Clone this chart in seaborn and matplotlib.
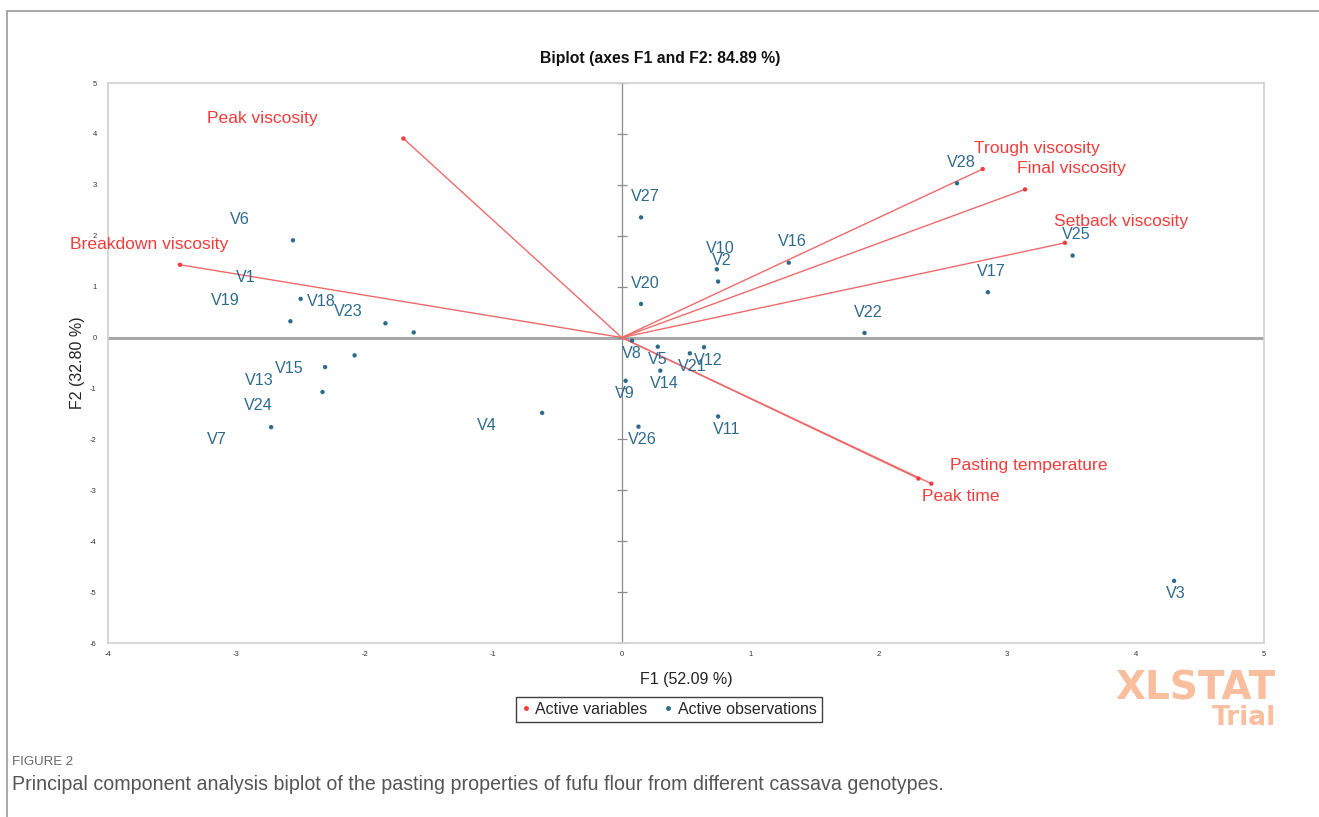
"""PCA biplot of fufu flour pasting properties (XLSTAT style)."""

import matplotlib

matplotlib.use("Agg")

import matplotlib.pyplot as plt
import numpy as np
import pandas as pd
import seaborn as sns
from matplotlib.patches import Rectangle

# ---- data ----
VAR_NAMES = [
    "Peak viscosity",
    "Breakdown viscosity",
    "Trough viscosity",
    "Final viscosity",
    "Setback viscosity",
    "Pasting temperature",
    "Peak time",
]
VAR_F1 = [-1.70, -3.44, 2.81, 3.14, 3.45, 2.31, 2.41]
VAR_F2 = [3.91, 1.43, 3.31, 2.91, 1.86, -2.77, -2.87]

OBS_NAMES = [
    "V1", "V2", "V3", "V4", "V5", "V6", "V7", "V8", "V9", "V10",
    "V11", "V12", "V13", "V14", "V15", "V16", "V17", "V18", "V19", "V20",
    "V21", "V22", "V23", "V24", "V25", "V26", "V27", "V28",
]
OBS_F1 = [
    -2.58, 0.75, 4.30, -0.62, 0.28, -2.56, -1.62, 0.08, 0.03, 0.74,
    0.75, 0.64, -2.33, 0.30, -2.31, 1.30, 2.85, -2.50, -2.08, 0.15,
    0.53, 1.89, -1.84, -2.73, 3.51, 0.13, 0.15, 2.61,
]
OBS_F2 = [
    0.32, 1.10, -4.78, -1.48, -0.18, 1.91, 0.10, -0.06, -0.85, 1.34,
    -1.55, -0.19, -1.07, -0.65, -0.58, 1.47, 0.89, 0.76, -0.35, 0.66,
    -0.31, 0.09, 0.28, -1.76, 1.61, -1.75, 2.36, 3.03,
]

TITLE = "Biplot (axes F1 and F2: 84.89 %)"
X_LABEL = "F1 (52.09 %)"
Y_LABEL = "F2 (32.80 %)"
X_TICKS = [-4, -3, -2, -1, 0, 1, 2, 3, 4, 5]
Y_TICKS = [-6, -5, -4, -3, -2, -1, 0, 1, 2, 3, 4, 5]
CAPTION_HEAD = "FIGURE 2"
CAPTION = (
    "Principal component analysis biplot of the pasting properties of fufu "
    "flour from different cassava genotypes."
)

# label placement (label centre minus point, data units)
VAR_LABEL_OFFSETS = [
    (-1.10, 0.39), (-0.24, 0.40), (0.42, 0.40), (0.36, 0.41),
    (0.44, 0.42), (0.86, 0.26), (0.23, -0.25),
]
OBS_LABEL_OFFSETS = {
    "V1": (-0.35, 0.86), "V19": (-1.01, 1.08), "V23": (-0.29, 0.23),
    "V13": (-0.49, 0.23), "V7": (-1.53, -2.10), "V6": (-0.415, 0.414),
    "V18": (0.16, -0.05), "V15": (-0.28, -0.03), "V24": (-0.10, 0.42),
    "V4": (-0.43, -0.25), "V8": (0.0, -0.25), "V9": (-0.01, -0.25),
    "V26": (0.03, -0.25), "V5": (0.0, -0.25), "V21": (0.02, -0.26),
    "V12": (0.03, -0.26), "V14": (0.03, -0.25), "V11": (0.07, -0.26),
    "V3": (0.01, -0.25),
}
DEFAULT_OBS_OFFSET = (0.03, 0.41)

RED = "#F23B3B"
RED_LINE = "#EE6A6A"
BLUE = "#2E6A8C"
GRID_GRAY = "#A8A8A8"

sns.set_theme(style="white")
plt.rcParams["font.family"] = ["Liberation Sans", "DejaVu Sans"]
plt.rcParams["axes.unicode_minus"] = False

variables = pd.DataFrame({"F1": VAR_F1, "F2": VAR_F2, "name": VAR_NAMES})
observations = pd.DataFrame({"F1": OBS_F1, "F2": OBS_F2, "name": OBS_NAMES})

W, H = 1319, 817
fig = plt.figure(figsize=(W / 100, H / 100), dpi=100)
ax = fig.add_axes([108 / W, 1 - 643 / H, (1264 - 108) / W, (643 - 83) / H])

# outer figure frame
fig.patches.append(
    Rectangle((7 / W, -0.05), 1.2, 1 - 11 / H + 0.05, transform=fig.transFigure,
              fill=False, edgecolor="#9A9A9A", linewidth=1.2)
)

# zero axes with small ticks
ax.axhline(0, color=GRID_GRAY, linewidth=2.2, zorder=1)
ax.axvline(0, color="#8C8C8C", linewidth=0.9, zorder=1)
ax.plot(np.zeros(len(Y_TICKS)), Y_TICKS, linestyle="none", marker="_",
        markersize=7, color="#8C8C8C", markeredgewidth=0.9, zorder=1)

# variable vectors from origin
for x_end, y_end in zip(variables["F1"], variables["F2"]):
    ax.plot([0, x_end], [0, y_end], color=RED_LINE, linewidth=1.0, zorder=2)

sns.scatterplot(data=variables, x="F1", y="F2", color=RED, s=10,
                edgecolor="none", ax=ax, zorder=3, legend=False)
sns.scatterplot(data=observations, x="F1", y="F2", color=BLUE, s=10,
                edgecolor="none", ax=ax, zorder=3, legend=False)

for (x, y, name), (dx, dy) in zip(variables.itertuples(index=False), VAR_LABEL_OFFSETS):
    ax.text(x + dx, y + dy, name, color=RED, fontsize=12.6,
            ha="center", va="center", zorder=4)

for x, y, name in observations.itertuples(index=False):
    dx, dy = OBS_LABEL_OFFSETS.get(name, DEFAULT_OBS_OFFSET)
    ax.text(x + dx, y + dy, name, color=BLUE, fontsize=11.6,
            ha="center", va="center", zorder=4)

ax.set_xlim(X_TICKS[0], X_TICKS[-1])
ax.set_ylim(Y_TICKS[0], Y_TICKS[-1])
ax.set_xticks(X_TICKS)
ax.set_yticks(Y_TICKS)
ax.tick_params(axis="both", length=0, labelsize=5.5, labelcolor="#333333")
ax.tick_params(axis="x", pad=6)
ax.tick_params(axis="y", pad=8)
for spine in ax.spines.values():
    spine.set_color("#D2D2D2")
    spine.set_linewidth(1.3)
ax.set_xlabel(X_LABEL, fontsize=11.5, color="#222222", labelpad=10)
ax.set_ylabel(Y_LABEL, fontsize=11.5, color="#222222", labelpad=4)

fig.text(660 / W, 1 - 58 / H, TITLE, fontsize=11.3, fontweight="bold",
         ha="center", va="center", color="#111111")

# legend
handles = [
    plt.Line2D([], [], linestyle="none", marker="o", markersize=2.5,
               color=RED, label="Active variables"),
    plt.Line2D([], [], linestyle="none", marker="o", markersize=2.5,
               color=BLUE, label="Active observations"),
]
leg = fig.legend(handles=handles, loc="center", ncol=2,
                 bbox_to_anchor=(669 / W, 1 - 709.5 / H), frameon=True,
                 fontsize=11.5, handlelength=0.6, handletextpad=0.3,
                 columnspacing=1.0, borderpad=0.3, fancybox=False)
leg.get_frame().set_edgecolor("#111111")
leg.get_frame().set_linewidth(1.0)

# watermark
fig.text(1276 / W, 1 - 688 / H, "XLSTAT", fontsize=28, fontweight="bold",
         color="#F9BE9E", ha="right", va="center",
         family=["DejaVu Sans"])
fig.text(1276 / W, 1 - 718 / H, "Trial", fontsize=19, fontweight="bold",
         color="#F9BE9E", ha="right", va="center",
         family=["DejaVu Sans"])

# caption
fig.text(12 / W, 1 - 762 / H, CAPTION_HEAD, fontsize=9.5, color="#666666",
         ha="left", va="center")
fig.text(12 / W, 1 - 785 / H, CAPTION, fontsize=14.1, color="#555555",
         ha="left", va="center")

fig.savefig("out.png", dpi=100)
plt.close(fig)
